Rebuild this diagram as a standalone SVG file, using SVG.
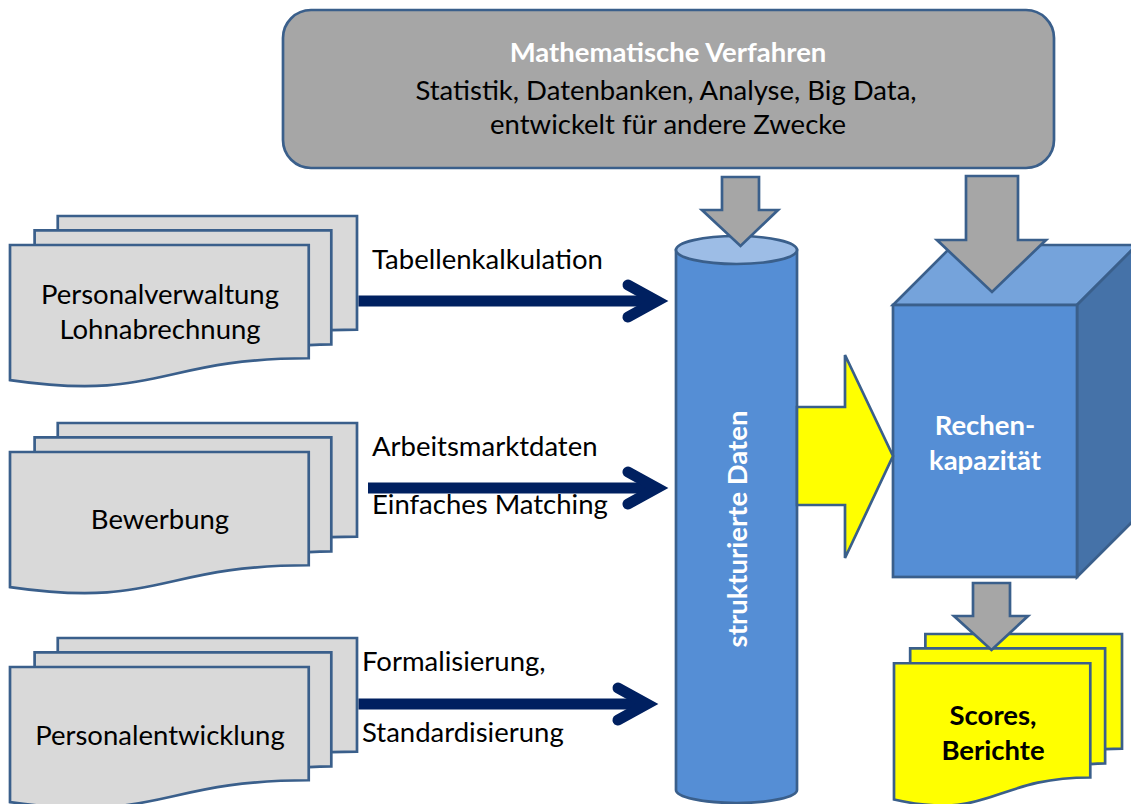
<svg xmlns="http://www.w3.org/2000/svg" width="1131" height="804" viewBox="0 0 1131 804">
  <style>
    text { font-family: Lato, "Liberation Sans", sans-serif; font-size: 27.5px; }
    .c { text-anchor: middle; }
    .b { font-weight: bold; }
    .w { fill: #ffffff; }
    .k { fill: #000000; }
    .edge { stroke: #3A5F8B; stroke-width: 2.7; stroke-linejoin: miter; }
    .doc { fill: #D9D9D9; }
    .ydoc { fill: #FFFF00; }
    .navy { fill: none; stroke: #002060; stroke-width: 11; }
    .head { stroke-linecap: round; stroke-linejoin: miter; }
    .block { fill: #A6A6A6; stroke: #3A5F8B; stroke-width: 2.7; }
  </style>
  <defs>
    <!-- stacked-pages document shape, gray variant (347 x 170.5) -->
    <path id="multidoc" d="M0,164.04 C149.37,185.83 149.37,142.26 298.73,142.26 L298.73,29.01 L0,29.01 Z M24.61,29.01 L24.61,14.33 L321.3,14.33 L321.3,128.28 C310.02,128.28 298.73,129.07 298.73,129.07 L298.73,29.01 Z M47.75,14.33 L47.75,0 L347,0 L347,113.6 C334.15,113.6 321.3,114.2 321.3,114.2 L321.3,14.33 Z"/>
    <!-- narrower stacked-pages shape for the output documents (228 x 172) -->
    <path id="multidoc-small" d="M0,165.49 C98.15,187.46 98.15,143.51 196.28,143.51 L196.28,29.26 L0,29.26 Z M16.17,29.26 L16.17,14.45 L211.11,14.45 L211.11,129.41 C203.7,129.41 196.28,130.21 196.28,130.21 L196.28,29.26 Z M31.37,14.45 L31.37,0 L228,0 L228,114.6 C219.56,114.6 211.11,115.2 211.11,115.2 L211.11,14.45 Z"/>
  </defs>

  <rect width="1131" height="804" fill="#ffffff"/>

  <!-- methods box -->
  <g id="verfahren">
    <rect x="283" y="10" width="771" height="158" rx="28" ry="28" fill="#A6A6A6" class="edge"/>
    <text x="668" y="62" class="c b w">Mathematische Verfahren</text>
    <text x="666" y="100" class="c k">Statistik, Datenbanken, Analyse, Big Data,</text>
    <text x="668" y="134" class="c k">entwickelt für andere Zwecke</text>
  </g>

  <!-- source documents -->
  <g id="personalverwaltung">
    <use href="#multidoc" x="10" y="216" class="doc edge"/>
    <text x="160" y="304" class="c k">Personalverwaltung</text>
    <text x="160" y="339" class="c k">Lohnabrechnung</text>
  </g>
  <g id="bewerbung">
    <use href="#multidoc" x="10" y="423" class="doc edge"/>
    <text x="160" y="529" class="c k">Bewerbung</text>
  </g>
  <g id="personalentwicklung">
    <use href="#multidoc" x="10" y="638" class="doc edge"/>
    <text x="160" y="745" class="c k">Personalentwicklung</text>
  </g>

  <!-- data store cylinder -->
  <g id="strukturierte-daten">
    <path d="M676,250 L676,790 A60.5,13 0 0 0 797,790 L797,250 Z" fill="#558ED5" class="edge"/>
    <ellipse cx="736.5" cy="250" rx="60.5" ry="14" fill="#9DBDE6" class="edge"/>
    <text transform="translate(747,529) rotate(-90)" class="c b w">strukturierte Daten</text>
  </g>

  <!-- computing cube -->
  <g id="rechenkapazitaet">
    <polygon points="893,305 953,245 1137,245 1077,305" fill="#75A3DB" class="edge"/>
    <polygon points="1077,305 1137,245 1137,517 1077,577" fill="#4572A8" class="edge"/>
    <rect x="893" y="305" width="184" height="272" fill="#558ED5" class="edge"/>
    <text x="985" y="435" class="c b w">Rechen-</text>
    <text x="985" y="470" class="c b w">kapazität</text>
  </g>

  <!-- output documents -->
  <g id="scores">
    <use href="#multidoc-small" x="894" y="634" class="ydoc edge"/>
    <text x="993" y="725" class="c b k">Scores,</text>
    <text x="993" y="760" class="c b k">Berichte</text>
  </g>

  <!-- connectors -->
  <g id="connectors">
    <path d="M358.5,301 L654,301" class="navy"/>
    <path d="M628,285 L657,301 L628,317" class="navy head"/>
    <text x="372" y="269" class="k">Tabellenkalkulation</text>

    <path d="M368,488 L654,488" class="navy"/>
    <path d="M628,472 L657,488 L628,504" class="navy head"/>
    <text x="372" y="456" class="k">Arbeitsmarktdaten</text>
    <text x="372" y="514" class="k">Einfaches Matching</text>

    <path d="M358.5,704 L644,704" class="navy"/>
    <path d="M618,688 L647,704 L618,720" class="navy head"/>
    <text x="362" y="671" class="k">Formalisierung,</text>
    <text x="362" y="742" class="k">Standardisierung</text>

    <polygon points="797,407 845,407 845,355 893,456 845,558 845,505 797,505" fill="#FFFF00" class="edge"/>

    <polygon points="722,177 759,177 759,210 778,210 740.5,246 702,210 722,210" class="block"/>
    <polygon points="966,176 1018,176 1018,240 1046,240 992,292 937,240 966,240" class="block"/>
    <polygon points="973,583 1010,583 1010,616 1028,616 991.5,650 954,616 973,616" class="block"/>
  </g>
</svg>
